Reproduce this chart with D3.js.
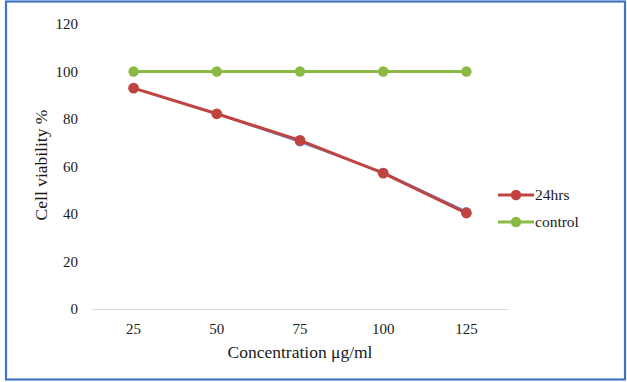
<!DOCTYPE html>
<html><head><meta charset="utf-8">
<script src="https://cdn.jsdelivr.net/npm/d3@7"></script>
<style>body{margin:0;background:#fff}svg{display:block}text{font-family:"Liberation Serif","Times New Roman",serif;fill:#1a1a1a}</style>
</head><body>
<svg id="c" width="627" height="382"></svg>
<script>
const categories = ["25","50","75","100","125"];
const hrs24 = [93, 82.2, 71, 57.2, 40.4];
const hiddenBlue = [93, 82.2, 70.3, 57.5, 41.1];
const control = [100, 100, 100, 100, 100];
const yTicks = [0,20,40,60,80,100,120];
const seriesNames = ["24hrs","control"];

const svg = d3.select("#c");
svg.append("rect").attr("x",6).attr("y",1.5).attr("width",619).attr("height",378)
  .attr("fill","#fff").attr("stroke","#4472C4").attr("stroke-width",2.2);

const x = d3.scaleBand().domain(categories).range([92,508]);
const y = d3.scaleLinear().domain([0,120]).range([309,24]);

// x axis
const xa = svg.append("g").attr("transform","translate(0,309)")
  .call(d3.axisBottom(x).tickSize(0).tickPadding(14));
xa.select(".domain").attr("stroke","#d9d9d9").attr("stroke-width",1);
xa.selectAll("text").attr("font-size",15).attr("font-family",null);

// y axis
const ya = svg.append("g").attr("transform","translate(78,0)")
  .call(d3.axisLeft(y).tickValues(yTicks).tickSize(0).tickPadding(0));
ya.select(".domain").remove();
ya.selectAll("text").attr("font-size",15).attr("font-family",null);

svg.append("text").attr("x",300).attr("y",358).attr("text-anchor","middle")
  .attr("font-size",17.5).text("Concentration μg/ml");
svg.append("text").attr("transform","translate(47,165) rotate(-90)").attr("text-anchor","middle")
  .attr("font-size",17.5).text("Cell viability %");

const cx = d => x(d) + x.bandwidth()/2;
const line = d3.line().x((d,i)=>cx(categories[i])).y(d=>y(d));

function drawSeries(vals, color, lw, r) {
  svg.append("path").datum(vals).attr("d",line).attr("fill","none")
    .attr("stroke",color).attr("stroke-width",lw).attr("stroke-linejoin","round");
  svg.append("g").selectAll("circle").data(vals).join("circle")
    .attr("cx",(d,i)=>cx(categories[i])).attr("cy",d=>y(d)).attr("r",r).attr("fill",color);
}
drawSeries(hiddenBlue, "#6F93C8", 2, 4.5);
drawSeries(control, "#8CB844", 3, 5.2);
drawSeries(hrs24, "#C0433F", 3, 5.4);

// legend
const legend = [{name:seriesNames[0], color:"#C0433F", y:195},{name:seriesNames[1], color:"#8CB844", y:222}];
const lg = svg.append("g");
legend.forEach(l=>{
  lg.append("line").attr("x1",498).attr("x2",534).attr("y1",l.y).attr("y2",l.y)
    .attr("stroke",l.color).attr("stroke-width",3);
  lg.append("circle").attr("cx",516).attr("cy",l.y).attr("r",5.2).attr("fill",l.color);
  lg.append("text").attr("x",535).attr("y",l.y+5).attr("font-size",15.5).text(l.name);
});
</script>
</body></html>
